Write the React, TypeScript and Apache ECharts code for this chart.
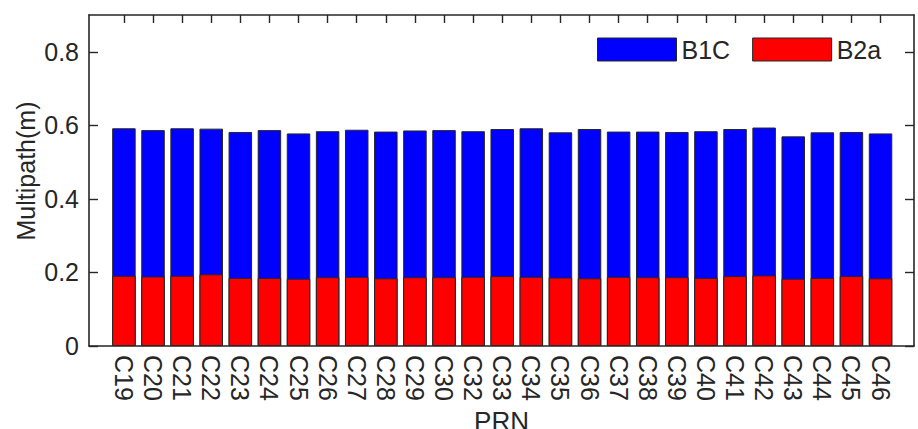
import React, { useEffect, useRef } from "react";
import * as echarts from "echarts";

const categories = [
  "C19", "C20", "C21", "C22", "C23", "C24", "C25", "C26", "C27", "C28", "C29", "C30",
  "C32", "C33", "C34", "C35", "C36", "C37", "C38", "C39", "C40", "C41", "C42", "C43",
  "C44", "C45", "C46",
];
const b1cValues = [
  0.592, 0.587, 0.592, 0.591, 0.582, 0.587, 0.578, 0.584, 0.588, 0.583, 0.586, 0.587,
  0.584, 0.590, 0.592, 0.581, 0.590, 0.583, 0.583, 0.582, 0.584, 0.590, 0.594, 0.570,
  0.581, 0.582, 0.578,
];
const b2aValues = [
  0.191, 0.189, 0.191, 0.195, 0.185, 0.185, 0.183, 0.187, 0.188, 0.184, 0.187, 0.187,
  0.188, 0.190, 0.188, 0.186, 0.184, 0.188, 0.187, 0.187, 0.185, 0.190, 0.192, 0.183,
  0.185, 0.190, 0.184,
];
const yTickValues = [0, 0.2, 0.4, 0.6, 0.8];
const seriesNames = ["B1C", "B2a"];

const FONT = "'Liberation Sans', Arial, sans-serif";
const INK = "#262626";
const FS = 25;

export default function App() {
  const ref = useRef<HTMLDivElement>(null);
  useEffect(() => {
    if (!ref.current) return;
    const chart = echarts.init(ref.current, undefined, { renderer: "svg" });
    const idx = categories.map((_, i) => i);
    const axisLine = { show: true, onZero: false, lineStyle: { color: INK, width: 1.6 } };
    chart.setOption({
      animation: false,
      backgroundColor: "#ffffff",
      textStyle: { fontFamily: FONT },
      grid: { left: 89, right: 4, top: 15, bottom: 83, containLabel: false, outerBoundsMode: "none" },
      legend: {
        data: seriesNames,
        left: 597,
        top: 37,
        padding: 0,
        itemWidth: 79,
        itemHeight: 23,
        itemGap: 22,
        icon: "rect",
        itemStyle: { borderColor: INK, borderWidth: 1 },
        textStyle: { fontSize: FS, color: INK, fontFamily: FONT },
      },
      graphic: [
        {
          type: "text",
          x: 26,
          y: 171,
          rotation: Math.PI / 2,
          style: {
            text: "Multipath(m)",
            fontSize: FS,
            fontFamily: FONT,
            fill: INK,
            textAlign: "center",
            textVerticalAlign: "middle",
          },
        },
      ],
      xAxis: [
        {
          type: "value",
          position: "bottom",
          min: -1.2,
          max: 27.15,
          name: "PRN",
          nameLocation: "middle",
          nameGap: 62,
          nameMoveOverlap: false,
          nameTextStyle: { fontSize: 26, color: INK, fontFamily: FONT },
          axisLine,
          splitLine: { show: false },
          axisTick: { show: true, inside: true, length: 8, customValues: idx, lineStyle: { color: INK, width: 1.4 } },
          axisLabel: {
            customValues: idx,
            rotate: -90,
            margin: 9,
            fontSize: FS,
            color: INK,
            fontFamily: FONT,
            formatter: (v: number) => categories[Math.round(v)] ?? "",
          },
        },
        {
          type: "value",
          position: "top",
          min: -1.2,
          max: 27.15,
          axisLine,
          splitLine: { show: false },
          axisTick: { show: true, inside: true, length: 8, customValues: idx, lineStyle: { color: INK, width: 1.4 } },
          axisLabel: { show: false },
        },
      ],
      yAxis: [
        {
          type: "value",
          position: "left",
          min: 0,
          max: 0.9,
          axisLine,
          splitLine: { show: false },
          axisTick: { show: true, inside: true, length: 9, customValues: yTickValues, lineStyle: { color: INK, width: 1.4 } },
          axisLabel: {
            customValues: yTickValues,
            margin: 10,
            fontSize: FS,
            color: INK,
            fontFamily: FONT,
          },
        },
        {
          type: "value",
          position: "right",
          min: 0,
          max: 0.9,
          axisLine,
          splitLine: { show: false },
          axisTick: { show: true, inside: true, length: 9, customValues: yTickValues, lineStyle: { color: INK, width: 1.4 } },
          axisLabel: { show: false },
        },
      ],
      series: [
        {
          name: seriesNames[0],
          type: "bar",
          xAxisIndex: 0,
          yAxisIndex: 0,
          barWidth: 23.5,
          barGap: "-100%",
          data: b1cValues.map((v, i) => [i, v]),
          itemStyle: { color: "#0000ff", borderColor: INK, borderWidth: 1 },
        },
        {
          name: seriesNames[1],
          type: "bar",
          xAxisIndex: 0,
          yAxisIndex: 0,
          barWidth: 23.5,
          barGap: "-100%",
          data: b2aValues.map((v, i) => [i, v]),
          itemStyle: { color: "#ff0000", borderColor: INK, borderWidth: 1 },
        },
      ],
    });
    return () => chart.dispose();
  }, []);
  return (
    <div
      ref={ref}
      style={{ position: "fixed", left: 0, top: 0, width: 918, height: 429, background: "#fff" }}
    />
  );
}
